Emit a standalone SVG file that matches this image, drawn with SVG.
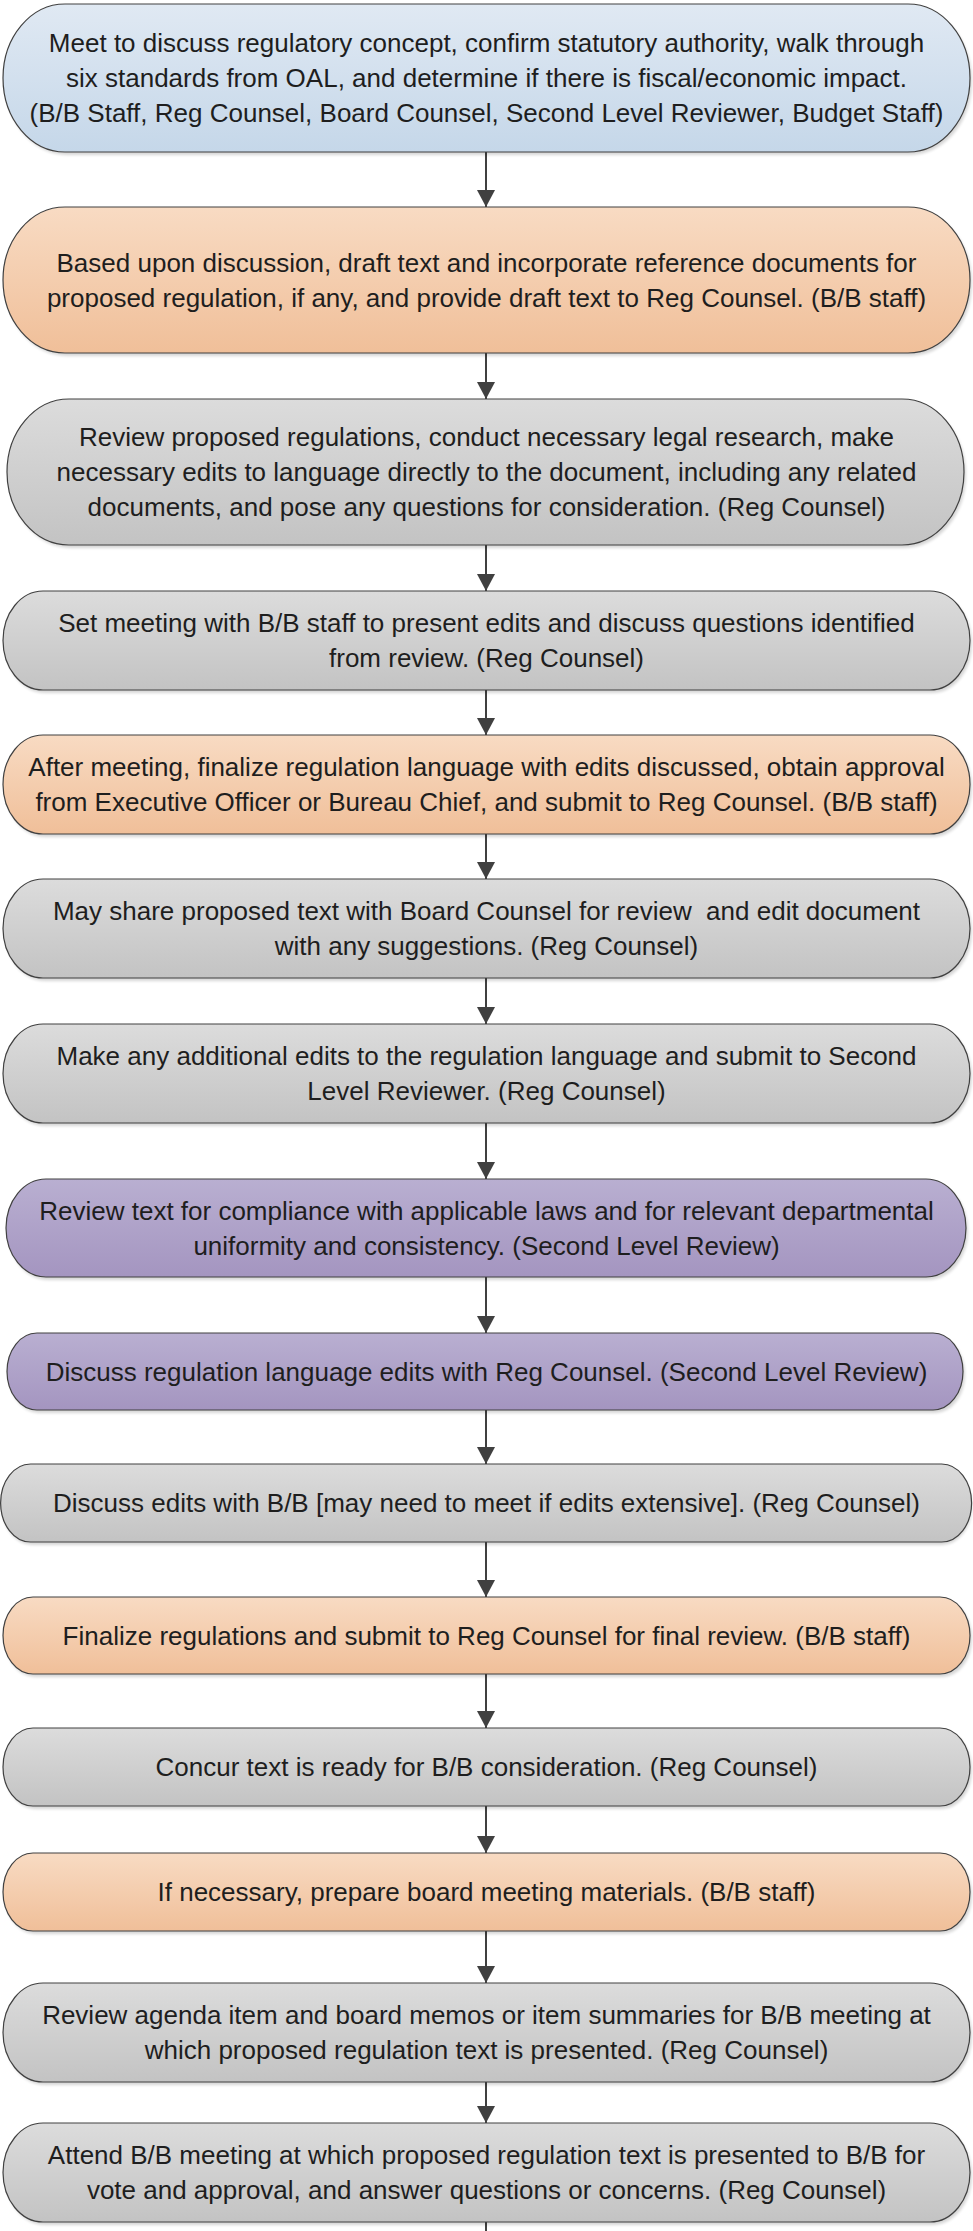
<svg xmlns="http://www.w3.org/2000/svg" width="973" height="2231" viewBox="0 0 973 2231">
<defs>
<style>
.n{stroke:#404040;stroke-width:1.2}
.sh{fill:#000;opacity:.16;filter:url(#blur)}
.t{font-family:"Liberation Sans",Arial,sans-serif;font-size:26px;fill:#1e1e1e;text-anchor:middle;white-space:pre}
.c{stroke:#404040;stroke-width:2;fill:none}
.ca{marker-end:url(#ah)}
</style>
<linearGradient id="gBlue" x1="0" y1="0" x2="0" y2="1"><stop offset="0" stop-color="#e0e9f3"/><stop offset="1" stop-color="#c5d7e9"/></linearGradient>
<linearGradient id="gOrange" x1="0" y1="0" x2="0" y2="1"><stop offset="0" stop-color="#f8dbc3"/><stop offset="1" stop-color="#f0bf99"/></linearGradient>
<linearGradient id="gGray" x1="0" y1="0" x2="0" y2="1"><stop offset="0" stop-color="#dcdcdc"/><stop offset="1" stop-color="#c3c3c3"/></linearGradient>
<linearGradient id="gPurple" x1="0" y1="0" x2="0" y2="1"><stop offset="0" stop-color="#b9afd1"/><stop offset="1" stop-color="#a495c0"/></linearGradient>
<filter id="blur" x="-5%" y="-20%" width="110%" height="140%"><feGaussianBlur stdDeviation="1.5"/></filter>
<marker id="ah" markerUnits="userSpaceOnUse" markerWidth="18" markerHeight="18" refX="17" refY="9" orient="auto"><path d="M0,0 L17,9 L0,18 Z" fill="#404040"/></marker>
</defs>

<g id="connectors">
<line class="c ca" x1="486" y1="152" x2="486" y2="207"/>
<line class="c ca" x1="486" y1="353" x2="486" y2="399"/>
<line class="c ca" x1="486" y1="545" x2="486" y2="591"/>
<line class="c ca" x1="486" y1="690" x2="486" y2="735"/>
<line class="c ca" x1="486" y1="834" x2="486" y2="879"/>
<line class="c ca" x1="486" y1="978" x2="486" y2="1024"/>
<line class="c ca" x1="486" y1="1123" x2="486" y2="1179"/>
<line class="c ca" x1="486" y1="1277" x2="486" y2="1333"/>
<line class="c ca" x1="486" y1="1410" x2="486" y2="1464"/>
<line class="c ca" x1="486" y1="1542" x2="486" y2="1597"/>
<line class="c ca" x1="486" y1="1674" x2="486" y2="1728"/>
<line class="c ca" x1="486" y1="1806" x2="486" y2="1853"/>
<line class="c ca" x1="486" y1="1931" x2="486" y2="1983"/>
<line class="c ca" x1="486" y1="2082" x2="486" y2="2123"/>
<line class="c" x1="486" y1="2222" x2="486" y2="2231"/>
</g>

<g id="node1">
<rect class="sh" x="5" y="7" width="967" height="148" rx="62" ry="74"/>
<rect class="n" x="3" y="4" width="967" height="148" rx="62" ry="74" fill="url(#gBlue)"/>
<text class="t" x="486.5" y="52">Meet to discuss regulatory concept, confirm statutory authority, walk through</text>
<text class="t" x="486.5" y="87">six standards from OAL, and determine if there is fiscal/economic impact.</text>
<text class="t" x="486.5" y="122">(B/B Staff, Reg Counsel, Board Counsel, Second Level Reviewer, Budget Staff)</text>
</g>

<g id="node2">
<rect class="sh" x="5" y="210" width="967" height="146" rx="62" ry="73"/>
<rect class="n" x="3" y="207" width="967" height="146" rx="62" ry="73" fill="url(#gOrange)"/>
<text class="t" x="486.5" y="271.5">Based upon discussion, draft text and incorporate reference documents for</text>
<text class="t" x="486.5" y="306.5">proposed regulation, if any, and provide draft text to Reg Counsel. (B/B staff)</text>
</g>

<g id="node3">
<rect class="sh" x="9" y="402" width="957" height="146" rx="62" ry="73"/>
<rect class="n" x="7" y="399" width="957" height="146" rx="62" ry="73" fill="url(#gGray)"/>
<text class="t" x="486.5" y="446">Review proposed regulations, conduct necessary legal research, make</text>
<text class="t" x="486.5" y="481">necessary edits to language directly to the document, including any related</text>
<text class="t" x="486.5" y="516">documents, and pose any questions for consideration. (Reg Counsel)</text>
</g>

<g id="node4">
<rect class="sh" x="5" y="594" width="967" height="99" rx="40" ry="49.5"/>
<rect class="n" x="3" y="591" width="967" height="99" rx="40" ry="49.5" fill="url(#gGray)"/>
<text class="t" x="486.5" y="632">Set meeting with B/B staff to present edits and discuss questions identified</text>
<text class="t" x="486.5" y="667">from review. (Reg Counsel)</text>
</g>

<g id="node5">
<rect class="sh" x="5" y="738" width="967" height="99" rx="40" ry="49.5"/>
<rect class="n" x="3" y="735" width="967" height="99" rx="40" ry="49.5" fill="url(#gOrange)"/>
<text class="t" x="486.5" y="776">After meeting, finalize regulation language with edits discussed, obtain approval</text>
<text class="t" x="486.5" y="811">from Executive Officer or Bureau Chief, and submit to Reg Counsel. (B/B staff)</text>
</g>

<g id="node6">
<rect class="sh" x="5" y="882" width="967" height="99" rx="40" ry="49.5"/>
<rect class="n" x="3" y="879" width="967" height="99" rx="40" ry="49.5" fill="url(#gGray)"/>
<text class="t" x="486.5" y="920">May share proposed text with Board Counsel for review  and edit document</text>
<text class="t" x="486.5" y="955">with any suggestions. (Reg Counsel)</text>
</g>

<g id="node7">
<rect class="sh" x="5" y="1027" width="967" height="99" rx="40" ry="49.5"/>
<rect class="n" x="3" y="1024" width="967" height="99" rx="40" ry="49.5" fill="url(#gGray)"/>
<text class="t" x="486.5" y="1065">Make any additional edits to the regulation language and submit to Second</text>
<text class="t" x="486.5" y="1100">Level Reviewer. (Reg Counsel)</text>
</g>

<g id="node8">
<rect class="sh" x="8" y="1182" width="960" height="98" rx="40" ry="49"/>
<rect class="n" x="6" y="1179" width="960" height="98" rx="40" ry="49" fill="url(#gPurple)"/>
<text class="t" x="486.5" y="1219.5">Review text for compliance with applicable laws and for relevant departmental</text>
<text class="t" x="486.5" y="1254.5">uniformity and consistency. (Second Level Review)</text>
</g>

<g id="node9">
<rect class="sh" x="9" y="1336" width="956" height="77" rx="30" ry="38.5"/>
<rect class="n" x="7" y="1333" width="956" height="77" rx="30" ry="38.5" fill="url(#gPurple)"/>
<text class="t" x="486.5" y="1380.5">Discuss regulation language edits with Reg Counsel. (Second Level Review)</text>
</g>

<g id="node10">
<rect class="sh" x="2" y="1467" width="970" height="78" rx="30" ry="39"/>
<rect class="n" x="0.6" y="1464" width="971" height="78" rx="30" ry="39" fill="url(#gGray)"/>
<text class="t" x="486.5" y="1512">Discuss edits with B/B [may need to meet if edits extensive]. (Reg Counsel)</text>
</g>

<g id="node11">
<rect class="sh" x="5" y="1600" width="967" height="77" rx="30" ry="38.5"/>
<rect class="n" x="3" y="1597" width="967" height="77" rx="30" ry="38.5" fill="url(#gOrange)"/>
<text class="t" x="486.5" y="1644.5">Finalize regulations and submit to Reg Counsel for final review. (B/B staff)</text>
</g>

<g id="node12">
<rect class="sh" x="5" y="1731" width="967" height="78" rx="30" ry="39"/>
<rect class="n" x="3" y="1728" width="967" height="78" rx="30" ry="39" fill="url(#gGray)"/>
<text class="t" x="486.5" y="1776">Concur text is ready for B/B consideration. (Reg Counsel)</text>
</g>

<g id="node13">
<rect class="sh" x="5" y="1856" width="967" height="78" rx="30" ry="39"/>
<rect class="n" x="3" y="1853" width="967" height="78" rx="30" ry="39" fill="url(#gOrange)"/>
<text class="t" x="486.5" y="1901">If necessary, prepare board meeting materials. (B/B staff)</text>
</g>

<g id="node14">
<rect class="sh" x="5" y="1986" width="967" height="99" rx="40" ry="49.5"/>
<rect class="n" x="3" y="1983" width="967" height="99" rx="40" ry="49.5" fill="url(#gGray)"/>
<text class="t" x="486.5" y="2024">Review agenda item and board memos or item summaries for B/B meeting at</text>
<text class="t" x="486.5" y="2059">which proposed regulation text is presented. (Reg Counsel)</text>
</g>

<g id="node15">
<rect class="sh" x="5" y="2126" width="967" height="99" rx="40" ry="49.5"/>
<rect class="n" x="3" y="2123" width="967" height="99" rx="40" ry="49.5" fill="url(#gGray)"/>
<text class="t" x="486.5" y="2164">Attend B/B meeting at which proposed regulation text is presented to B/B for</text>
<text class="t" x="486.5" y="2199">vote and approval, and answer questions or concerns. (Reg Counsel)</text>
</g>
</svg>
